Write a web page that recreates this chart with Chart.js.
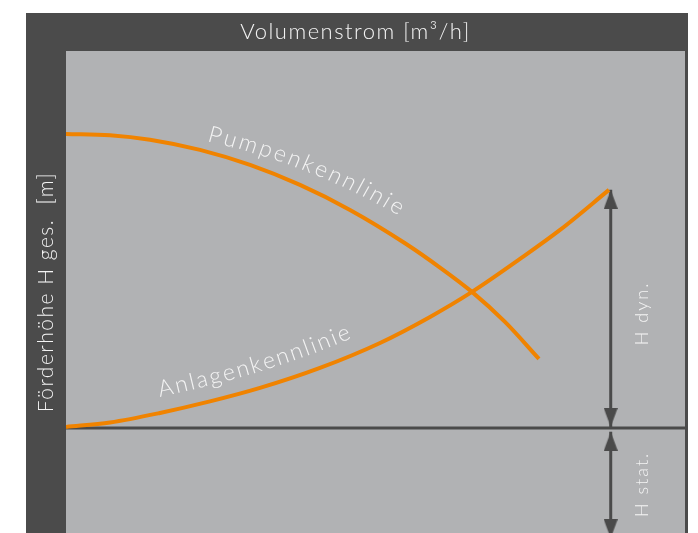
<!DOCTYPE html>
<html><head><meta charset="utf-8">
<script src="https://cdn.jsdelivr.net/npm/chart.js@4.4.1/dist/chart.umd.min.js"></script>
<style>html,body{margin:0;padding:0;background:#fff;}canvas{display:block;}</style>
</head><body>
<canvas id="c" width="698" height="533"></canvas>
<script>
// ---- text ----
const xTitle = 'Volumenstrom [m³/h]';
const yTitle = 'Förderhöhe H ges.  [m]';
const pumpLabel = 'Pumpenkennlinie';
const systemLabel = 'Anlagenkennlinie';
const dynLabel = 'H dyn.';
const statLabel = 'H stat.';

// ---- data (arbitrary units) ----
const pumpX   = [0, 7.11, 13.57, 21.65, 29.73, 37.80, 45.88, 54.77, 60.42, 65.59, 70.92, 76.41];
const pumpY   = [61.0, 60.73, 59.79, 57.68, 54.56, 50.41, 45.23, 38.32, 33.28, 28.22, 21.99, 14.32];
const systemX = [0, 7.11, 15.19, 23.26, 31.34, 41.03, 50.73, 58.81, 65.59, 73.34, 79.81, 87.72];
const systemY = [0.2, 1.14, 3.11, 5.50, 8.30, 12.45, 17.63, 23.03, 28.22, 35.06, 41.08, 49.38];
const staticLevel = 0;
const arrowX = 88.0;
const dynY  = [49.4, 0.2];
const statY = [-0.8, -22.9];
const xRange = [0, 100];
const yRange = [-21.8, 78.2];

// ---- styles ----
const ORANGE = '#f08300';
const DARK = '#4a4a4a';
const PLOT = '#b1b2b4';
const TXT = '#f4f4f4';
const FONT = "Lato, 'Open Sans', sans-serif";

function pts(xs, ys){ return xs.map((x,i)=>({x, y: ys[i]})); }

function makeArrow(){
  const c = document.createElement('canvas');
  c.width = 14; c.height = 38;
  const g = c.getContext('2d');
  g.fillStyle = DARK;
  g.beginPath(); g.moveTo(7,19); g.lineTo(14,38); g.lineTo(0,38); g.closePath(); g.fill();
  return c;
}
const arrowImg = makeArrow();

const framePlugin = {
  id: 'frame',
  beforeDraw(chart){
    const {ctx, chartArea:{left,top,right,bottom}} = chart;
    ctx.save();
    ctx.fillStyle = '#4b4b4b';
    ctx.fillRect(left-40, top-38, right-left+43, bottom-top+38);
    ctx.fillStyle = PLOT;
    ctx.fillRect(left, top, right-left, bottom-top);
    ctx.restore();
    ctx.letterSpacing = '1.5px';
  }
};

function samplePath(meta){
  const p = meta.data, out = [];
  for (let i=0;i<p.length-1;i++){
    const a=p[i], b=p[i+1];
    const c1x=a.cp2x??a.x, c1y=a.cp2y??a.y, c2x=b.cp1x??b.x, c2y=b.cp1y??b.y;
    for (let k=(i===0?0:1);k<=40;k++){
      const t=k/40, u=1-t;
      out.push({
        x:u*u*u*a.x+3*u*u*t*c1x+3*u*t*t*c2x+t*t*t*b.x,
        y:u*u*u*a.y+3*u*u*t*c1y+3*u*t*t*c2y+t*t*t*b.y
      });
    }
  }
  let s=0; out[0].s=0;
  for (let i=1;i<out.length;i++){ s+=Math.hypot(out[i].x-out[i-1].x,out[i].y-out[i-1].y); out[i].s=s; }
  return out;
}
function posAt(path, s){
  let i=1;
  while (i<path.length-1 && path[i].s < s) i++;
  const a=path[i-1], b=path[i];
  const len=(b.s-a.s)||1, t=(s-a.s)/len;
  const dx=(b.x-a.x)/len, dy=(b.y-a.y)/len;
  return {x:a.x+(b.x-a.x)*t, y:a.y+(b.y-a.y)*t, dx, dy};
}

const curveTextPlugin = {
  id: 'curveText',
  afterDatasetsDraw(chart, args, opts){
    const ctx = chart.ctx;
    (opts.labels||[]).forEach(l=>{
      const path = samplePath(chart.getDatasetMeta(l.dataset));
      const sx = chart.scales.x.getPixelForValue(l.startX);
      let s0 = 0;
      for (let i=1;i<path.length;i++){ if (path[i].x>=sx){ const a=path[i-1],b=path[i]; s0=a.s+(b.s-a.s)*((sx-a.x)/((b.x-a.x)||1)); break; } }
      ctx.save();
      ctx.letterSpacing = '0px';
      ctx.font = `${l.weight} ${l.size}px ${FONT}`;
      ctx.fillStyle = TXT; ctx.textAlign='center'; ctx.textBaseline='alphabetic';
      const chars=[...l.text];
      const ws=chars.map(c=>ctx.measureText(c).width);
      const W=ws.reduce((a,b)=>a+b,0);
      const sp=(l.length-W)/(chars.length-1);
      let s=s0;
      chars.forEach((c,i)=>{
        const mid=s+ws[i]/2;
        const f=(mid-s0)/l.length;
        const d=l.offsets[0]+(l.offsets[1]-l.offsets[0])*f;
        const p=posAt(path, mid);
        const nx=p.dy, ny=-p.dx;
        ctx.save();
        ctx.translate(p.x+d*nx, p.y+d*ny);
        ctx.rotate(Math.atan2(p.dy,p.dx));
        ctx.fillText(c,0,0);
        ctx.restore();
        s+=ws[i]+sp;
      });
      ctx.restore();
    });
  }
};

const arrowTextPlugin = {
  id: 'arrowText',
  afterDatasetsDraw(chart, args, opts){
    const ctx = chart.ctx;
    (opts.labels||[]).forEach(l=>{
      const meta = chart.getDatasetMeta(l.dataset);
      const a = meta.data[0], b = meta.data[1];
      const yb = Math.min(b.y, chart.chartArea.bottom);
      const x = a.x + l.dx, y = (a.y + yb)/2 + l.dy;
      ctx.save();
      ctx.letterSpacing = l.spacing;
      ctx.font = `300 ${l.size}px ${FONT}`;
      ctx.fillStyle = TXT; ctx.textAlign='center'; ctx.textBaseline='middle';
      ctx.translate(x,y); ctx.rotate(-Math.PI/2);
      ctx.fillText(l.text,0,0);
      ctx.restore();
    });
  }
};

new Chart(document.getElementById('c'), {
  type: 'line',
  data: {
    datasets: [
      { data: pts(pumpX, pumpY), borderColor: ORANGE, borderWidth: 4, pointRadius: 0, cubicInterpolationMode: 'monotone', borderCapStyle: 'butt' },
      { data: pts(systemX, systemY), borderColor: ORANGE, borderWidth: 4, pointRadius: 0, cubicInterpolationMode: 'monotone', borderCapStyle: 'butt' },
      { data: pts([arrowX, arrowX], dynY), borderColor: DARK, borderWidth: 3, pointStyle: arrowImg, pointRotation: [0, 180], pointRadius: 10, tension: 0 },
      { data: pts([arrowX, arrowX], statY), borderColor: DARK, borderWidth: 3, pointStyle: arrowImg, pointRotation: [0, 180], pointRadius: 10, tension: 0 },
      { data: pts(xRange, [staticLevel, staticLevel]), borderColor: DARK, borderWidth: 3, pointRadius: 0, tension: 0 }
    ]
  },
  options: {
    responsive: false,
    devicePixelRatio: 1,
    animation: false,
    events: [],
    layout: { autoPadding: false, padding: { top: 13, left: 26, right: 13, bottom: 0 } },
    scales: {
      x: { type: 'linear', min: xRange[0], max: xRange[1], display: false },
      y: { type: 'linear', min: yRange[0], max: yRange[1],
           ticks: { display: false }, grid: { display: false, drawTicks: false }, border: { display: false },
           title: { display: true, text: yTitle, color: TXT, font: { family: FONT, size: 21, weight: 300 }, padding: { top: 7.4, bottom: 7.4 } } }
    },
    plugins: {
      legend: { display: false },
      tooltip: { enabled: false },
      title: { display: true, text: xTitle, color: TXT, font: { family: FONT, size: 22, weight: 300 }, padding: { top: 5.8, bottom: 5.8 } },
      curveText: { labels: [
        { dataset: 0, text: pumpLabel, startX: 22.3, offsets: [10, 20], length: 202, size: 23, weight: 300 },
        { dataset: 1, text: systemLabel, startX: 15.7, offsets: [15.6, 16], length: 204, size: 23, weight: 300 }
      ]},
      arrowText: { labels: [
        { dataset: 2, text: dynLabel, dx: 31, dy: 5, size: 18, spacing: '2px' },
        { dataset: 3, text: statLabel, dx: 31, dy: 2, size: 18, spacing: '2px' }
      ]}
    }
  },
  plugins: [framePlugin, curveTextPlugin, arrowTextPlugin]
});
</script>
</body></html>
